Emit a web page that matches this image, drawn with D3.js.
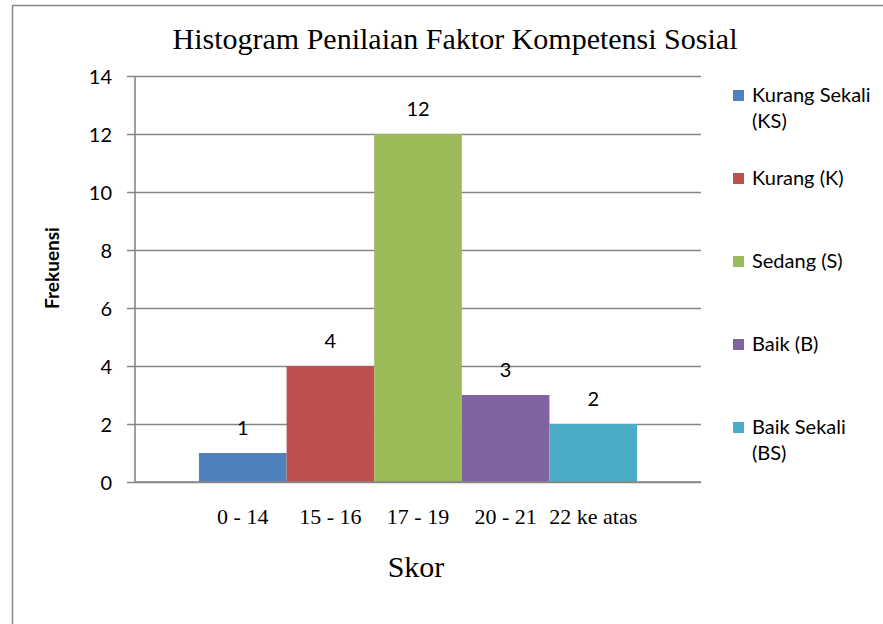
<!DOCTYPE html>
<html>
<head>
<meta charset="utf-8">
<script src="https://cdn.jsdelivr.net/npm/d3@7"></script>
<style>
  body { margin: 0; background: #fff; }
  svg { display: block; }
</style>
</head>
<body>
<div class="chart"></div>
<script>
var categories = ["0 - 14", "15 - 16", "17 - 19", "20 - 21", "22 ke atas"];
var values = [1, 4, 12, 3, 2];
var seriesNames = [["Kurang Sekali", "(KS)"], ["Kurang (K)"], ["Sedang (S)"], ["Baik (B)"], ["Baik Sekali", "(BS)"]];
var colors = ["#4F81BD", "#C0504D", "#9BBB59", "#8064A2", "#4BACC6"];
var yTicks = [0, 2, 4, 6, 8, 10, 12, 14];

var width = 883, height = 624;
var margin = {top: 76, left: 135, right: 182, bottom: 142};
var sans = "Lato, 'Open Sans', sans-serif";
var serif = "'Liberation Serif', 'Times New Roman', serif";
var gray = "#868686";

var svg = d3.select(".chart").append("svg")
    .attr("width", width)
    .attr("height", height);

// chart border
svg.append("rect")
    .attr("x", 12.5).attr("y", 5.5)
    .attr("width", width + 20).attr("height", height + 20)
    .attr("fill", "none")
    .attr("stroke", gray)
    .attr("stroke-width", 1.5);

var x = d3.scaleBand()
    .domain(categories)
    .range([margin.left, width - margin.right])
    .paddingInner(0)
    .paddingOuter(0.73);

var y = d3.scaleLinear()
    .domain([0, 14])
    .range([height - margin.bottom, margin.top]);

// gridlines + y axis
var yAxis = d3.axisLeft(y)
    .tickValues(yTicks)
    .tickSize(-(width - margin.right - margin.left))
    .tickSizeOuter(0)
    .tickPadding(23);

var gy = svg.append("g")
    .attr("transform", "translate(" + margin.left + ",0)")
    .call(yAxis);
gy.select(".domain").remove();
gy.selectAll(".tick line")
    .attr("x1", -8)
    .attr("stroke", gray)
    .attr("stroke-width", 1.6);
gy.selectAll(".tick text")
    .attr("font-family", sans)
    .attr("font-size", 20)
    .attr("fill", "#000")
    .attr("dy", "0.36em");

// y axis line
svg.append("line")
    .attr("x1", margin.left).attr("x2", margin.left)
    .attr("y1", y(14)).attr("y2", y(0))
    .attr("stroke", gray).attr("stroke-width", 1.6);

// bars
svg.append("g").selectAll("rect")
    .data(values)
    .enter().append("rect")
    .attr("x", function(d, i) { return x(categories[i]); })
    .attr("y", function(d) { return y(d); })
    .attr("width", x.bandwidth())
    .attr("height", function(d) { return y(0) - y(d); })
    .attr("fill", function(d, i) { return colors[i]; });

// x axis baseline
svg.append("line")
    .attr("x1", margin.left).attr("x2", width - margin.right)
    .attr("y1", y(0)).attr("y2", y(0))
    .attr("stroke", gray).attr("stroke-width", 1.6);

// data labels
svg.append("g").selectAll("text")
    .data(values)
    .enter().append("text")
    .attr("x", function(d, i) { return x(categories[i]) + x.bandwidth() / 2; })
    .attr("y", function(d) { return y(d) - 18; })
    .attr("text-anchor", "middle")
    .attr("font-family", sans)
    .attr("font-size", 20)
    .text(function(d) { return d; });

// x tick labels
svg.append("g").selectAll("text")
    .data(categories)
    .enter().append("text")
    .attr("x", function(d) { return x(d) + x.bandwidth() / 2; })
    .attr("y", y(0) + 42)
    .attr("text-anchor", "middle")
    .attr("font-family", serif)
    .attr("font-size", 22)
    .text(function(d) { return d; });

// title
svg.append("text")
    .attr("x", 455).attr("y", 49)
    .attr("text-anchor", "middle")
    .attr("font-family", serif)
    .attr("font-size", 30)
    .text("Histogram Penilaian Faktor Kompetensi Sosial");

// axis titles
svg.append("text")
    .attr("x", 416).attr("y", 577)
    .attr("text-anchor", "middle")
    .attr("font-family", serif)
    .attr("font-size", 30)
    .text("Skor");

svg.append("text")
    .attr("transform", "translate(59,268) rotate(-90)")
    .attr("text-anchor", "middle")
    .attr("font-family", sans)
    .attr("font-weight", "bold")
    .attr("font-size", 19)
    .text("Frekuensi");

// legend
var ly = d3.scalePoint()
    .domain(d3.range(seriesNames.length))
    .range([102, 434]);

var legend = svg.append("g").selectAll("g")
    .data(seriesNames)
    .enter().append("g")
    .attr("transform", function(d, i) { return "translate(733," + ly(i) + ")"; });

legend.append("rect")
    .attr("y", -12)
    .attr("width", 11).attr("height", 11)
    .attr("fill", function(d, i) { return colors[i]; });

legend.append("text")
    .attr("x", 19)
    .attr("font-family", sans)
    .attr("font-size", 20)
    .selectAll("tspan")
    .data(function(d) { return d; })
    .enter().append("tspan")
    .attr("x", 19)
    .attr("dy", function(d, i) { return i ? 26 : 0; })
    .text(function(d) { return d; });
</script>
</body>
</html>
